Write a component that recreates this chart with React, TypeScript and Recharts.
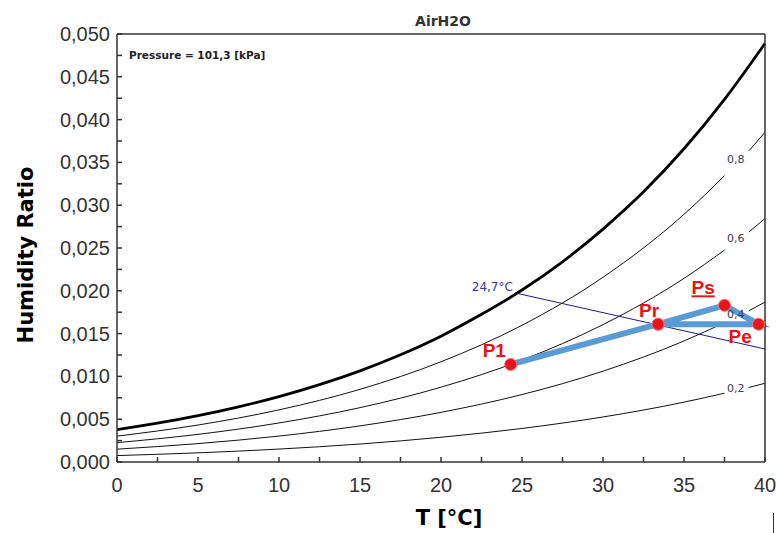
import React from "react";
import { LineChart, Line, XAxis, YAxis, ReferenceDot } from "recharts";

// saturation curve (phi = 1)
const satT = [0, 2.5, 5, 7.5, 10, 12.5, 15, 17.5, 20, 22.5, 25, 27.5, 30, 32.5, 35, 37.5, 40];
const satW = [0.00378, 0.00453, 0.00541, 0.00644, 0.00763, 0.00903, 0.01065, 0.01253, 0.0147, 0.01725, 0.02009, 0.02339, 0.02721, 0.03156, 0.03659, 0.04237, 0.0489];

// relative humidity curves, broken where the labels sit
const rhT = [0, 5, 10, 15, 20, 25, 30, 35, 37.5, 38.2, 39, 40];
const rh80 = [0.00302, 0.00432, 0.00609, 0.00849, 0.01171, 0.01597, 0.02158, 0.02893, 0.03344, null, 0.03634, 0.03852];
const rh60 = [0.00226, 0.00323, 0.00456, 0.00635, 0.00874, 0.0119, 0.01605, 0.02145, 0.02475, null, 0.02686, 0.02845];
const rh40 = [0.0015, 0.00215, 0.00303, 0.00422, 0.0058, 0.00788, 0.01061, 0.01414, 0.01628, null, 0.01766, 0.01868];
const rh20 = [0.00075, 0.00107, 0.00151, 0.0021, 0.00289, 0.00392, 0.00526, 0.00699, 0.00804, null, 0.0087, 0.0092];

// wet bulb line 24,7 °C
const wbT = [24.7, 40];
const wbW = [0.0197, 0.0132];

// process points
const procNames = ["P1", "Pr", "Ps", "Pe", "Pr"];
const procT = [24.3, 33.4, 37.5, 39.6, 33.4];
const procW = [0.0114, 0.0161, 0.0183, 0.0161, 0.0161];

// curve labels
const rhLabels = ["0,8", "0,6", "0,4", "0,2"];
const rhLabelT = [38.2, 38.2, 38.2, 38.2];
const rhLabelW = [0.0349, 0.0257, 0.0168, 0.0082];

const xTicks = [0, 2.5, 5, 7.5, 10, 12.5, 15, 17.5, 20, 22.5, 25, 27.5, 30, 32.5, 35, 37.5, 40];
const yTicks = [0, 0.0025, 0.005, 0.0075, 0.01, 0.0125, 0.015, 0.0175, 0.02, 0.0225, 0.025, 0.0275, 0.03, 0.0325, 0.035, 0.0375, 0.04, 0.0425, 0.045, 0.0475, 0.05];

const toRows = (ts: number[], ws: (number | null)[]) => ts.map((t, i) => ({ t, w: ws[i] }));

const satData = toRows(satT, satW);
const rhData = [rh80, rh60, rh40, rh20].map((ws) => toRows(rhT, ws));
const wbData = toRows(wbT, wbW);
const procData = procT.map((t, i) => ({ t, w: procW[i], name: procNames[i] }));

const TICK_FONT = "'Liberation Sans', Arial, sans-serif";
const LABEL_FONT = "'DejaVu Sans', Verdana, sans-serif";

// text offsets for the process labels (px from the point)
const procOffsets: Record<string, [number, number]> = {
  P1: [-28, -7],
  Pr: [-19, -7],
  Ps: [-33, -11],
  Pe: [-30, 19],
};

const XTick = (props: any) => {
  const { x, payload } = props;
  const v = payload.value;
  if (Math.round(v * 10) % 50 !== 0) return <g />;
  return (
    <text x={x} y={492} textAnchor="middle" fontSize={20} fontFamily={TICK_FONT} fill="#333">
      {v}
    </text>
  );
};

const YTick = (props: any) => {
  const { y, payload } = props;
  const v = payload.value;
  if (Math.round(v * 10000) % 50 !== 0) return <g />;
  return (
    <text x={110} y={y + 7} textAnchor="end" fontSize={20} fontFamily={TICK_FONT} fill="#333">
      {v.toFixed(3).replace(".", ",")}
    </text>
  );
};

const ProcLabel = (props: any) => {
  const { x, y, index } = props;
  if (index > 3) return null;
  const name = procNames[index];
  const [dx, dy] = procOffsets[name];
  return (
    <text
      x={x + dx}
      y={y + dy}
      fontSize={19}
      fontWeight="bold"
      fontFamily={TICK_FONT}
      fill="#ee1111"
      style={name === "Ps" ? { textDecoration: "underline wavy #ee3333" } : undefined}
    >
      {name}
    </text>
  );
};

export default function App() {
  return (
    <div style={{ position: "absolute", left: 0, top: 0, width: 776, height: 533, background: "#fff" }}>
      <LineChart width={776} height={533} margin={{ top: 0, right: 0, bottom: 0, left: 0 }}>
        <XAxis
          dataKey="t"
          type="number"
          domain={[0, 40]}
          ticks={xTicks}
          interval={0}
          height={71}
          stroke="#333"
          strokeWidth={1.5}
          tickSize={-5}
          tick={<XTick />}
        />
        <XAxis
          xAxisId="top"
          orientation="top"
          type="number"
          domain={[0, 40]}
          ticks={xTicks}
          interval={0}
          height={34}
          stroke="#333"
          strokeWidth={1.5}
          tickSize={-5}
          tick={() => <g />}
        />
        <YAxis
          type="number"
          domain={[0, 0.05]}
          ticks={yTicks}
          interval={0}
          width={117}
          stroke="#333"
          strokeWidth={1.5}
          tickSize={-5}
          tick={<YTick />}
        />
        <YAxis
          yAxisId="right"
          orientation="right"
          type="number"
          domain={[0, 0.05]}
          ticks={yTicks}
          interval={0}
          width={11}
          stroke="#333"
          strokeWidth={1.5}
          tickSize={-5}
          tick={() => <g />}
        />

        {rhData.map((d, i) => (
          <Line
            key={`rh-${i}`}
            data={d}
            dataKey="w"
            type="monotone"
            stroke="#111"
            strokeWidth={1}
            dot={false}
            activeDot={false}
            connectNulls={false}
            isAnimationActive={false}
          />
        ))}
        <Line
          data={satData}
          dataKey="w"
          type="monotone"
          stroke="#000"
          strokeWidth={2.8}
          dot={false}
          activeDot={false}
          isAnimationActive={false}
        />

        {rhLabels.map((lab, i) => (
          <ReferenceDot
            key={`lab-${i}`}
            x={rhLabelT[i]}
            y={rhLabelW[i]}
            r={0}
            shape={(p: any) => (
              <text x={p.cx} y={p.cy} textAnchor="middle" fontSize={11} fontFamily={LABEL_FONT} fill="#3a3a55">
                {lab}
              </text>
            )}
          />
        ))}

        <Line
          data={wbData}
          dataKey="w"
          type="linear"
          stroke="#1c1c8c"
          strokeWidth={1}
          dot={false}
          activeDot={false}
          isAnimationActive={false}
        />
        <ReferenceDot
          x={21.9}
          y={0.01998}
          r={0}
          shape={(p: any) => (
            <text x={p.cx} y={p.cy} fontSize={12} fontFamily={LABEL_FONT} fill="#3535a8">
              24,7°C
            </text>
          )}
        />
        <ReferenceDot
          x={0.74}
          y={0.04708}
          r={0}
          shape={(p: any) => (
            <text x={p.cx} y={p.cy} fontSize={10.5} fontWeight="bold" fontFamily={LABEL_FONT} fill="#222">
              Pressure = 101,3 [kPa]
            </text>
          )}
        />

        <Line
          data={procData}
          dataKey="w"
          type="linear"
          stroke="#5b9bd5"
          strokeWidth={6}
          dot={{ r: 6, fill: "#e8141c", stroke: "#f47070", strokeWidth: 1 }}
          activeDot={false}
          label={<ProcLabel />}
          isAnimationActive={false}
        />
      </LineChart>

      <svg width={776} height={533} style={{ position: "absolute", left: 0, top: 0, pointerEvents: "none" }}>
        <text x={443} y={26} textAnchor="middle" fontSize={14} fontWeight="bold" fontFamily={LABEL_FONT} fill="#333">
          AirH2O
        </text>
        <text
          x={33}
          y={255}
          transform="rotate(-90 33 255)"
          textAnchor="middle"
          fontSize={21}
          fontWeight="bold"
          fontFamily={LABEL_FONT}
          fill="#000"
        >
          Humidity Ratio
        </text>
        <text x={449} y={525} textAnchor="middle" fontSize={21} fontWeight="bold" fontFamily={LABEL_FONT} fill="#000">
          T [°C]
        </text>
        <line x1={773.5} y1={513} x2={773.5} y2={533} stroke="#333" strokeWidth={1} />
      </svg>
    </div>
  );
}
